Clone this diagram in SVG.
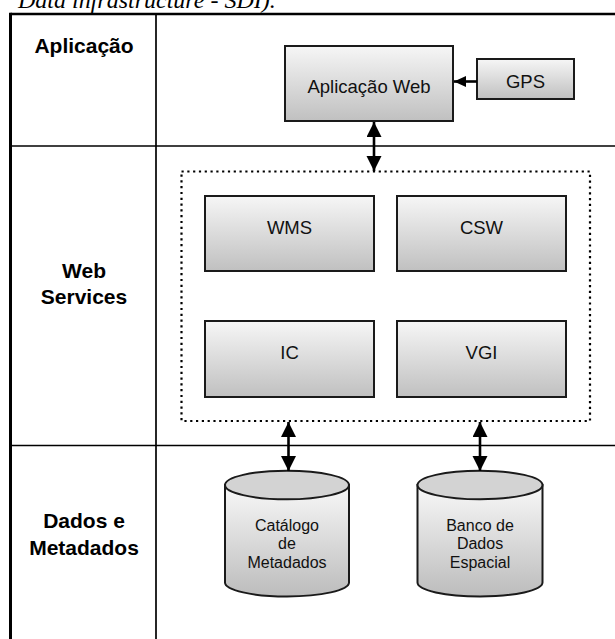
<svg xmlns="http://www.w3.org/2000/svg" width="615" height="639" viewBox="0 0 615 639">
  <style>
    .frame { stroke: #000; fill: none; }
    .box { stroke: #1a1a1a; stroke-width: 2; fill: url(#boxGrad); }
    .cyl { stroke: #1a1a1a; stroke-width: 2; fill: url(#cylGrad); }
    .cyltop { stroke: #1a1a1a; stroke-width: 2; fill: #d3d3d3; }
    .lbl { font-family: "Liberation Sans", Arial, sans-serif; font-weight: bold; font-size: 21px; fill: #000; text-anchor: middle; }
    .txt { font-family: "Liberation Sans", Arial, sans-serif; font-size: 18.5px; fill: #111; text-anchor: middle; }
    .ctxt { font-family: "Liberation Sans", Arial, sans-serif; font-size: 16px; fill: #111; text-anchor: middle; }
    .conn { stroke: #000; stroke-width: 2.6; fill: none; }
  </style>
  <defs>
    <linearGradient id="boxGrad" x1="0" y1="0" x2="0" y2="1">
      <stop offset="0" stop-color="#f6f6f6"/>
      <stop offset="1" stop-color="#c0c0c0"/>
    </linearGradient>
    <linearGradient id="cylGrad" x1="0" y1="0" x2="0" y2="1">
      <stop offset="0" stop-color="#f8f8f8"/>
      <stop offset="1" stop-color="#bcbcbc"/>
    </linearGradient>
    <marker id="bigHead" markerUnits="userSpaceOnUse" markerWidth="16" markerHeight="16" refX="15" refY="7.5" orient="auto-start-reverse" viewBox="0 0 16 16">
      <path d="M0,0 L15,7.5 L0,15 z" fill="#000"/>
    </marker>
    <marker id="smallHead" markerUnits="userSpaceOnUse" markerWidth="13" markerHeight="12" refX="12" refY="5.5" orient="auto-start-reverse" viewBox="0 0 13 12">
      <path d="M0,0 L12,5.5 L0,11 z" fill="#000"/>
    </marker>
  </defs>

  <!-- caption (clipped at top) -->
  <text x="18" y="7.5" font-family="'Liberation Serif', 'Times New Roman', serif" font-style="italic" font-size="24" fill="#000">Data infrastructure - SDI).</text>

  <!-- frame -->
  <g id="frame">
    <line class="frame" x1="10.5" y1="14" x2="615" y2="14" stroke-width="2.6"/>
    <line class="frame" x1="10.5" y1="12.7" x2="10.5" y2="639" stroke-width="3"/>
    <line class="frame" x1="156" y1="14" x2="156" y2="639" stroke-width="1.7"/>
    <line class="frame" x1="10.5" y1="146" x2="615" y2="146" stroke-width="1.7"/>
    <line class="frame" x1="10.5" y1="445.5" x2="615" y2="445.5" stroke-width="1.7"/>
  </g>

  <!-- row labels -->
  <g id="label-aplicacao"><text class="lbl" x="84" y="53">Aplicação</text></g>
  <g id="label-webservices">
    <text class="lbl" x="84" y="278">Web</text>
    <text class="lbl" x="84" y="304">Services</text>
  </g>
  <g id="label-dados">
    <text class="lbl" x="84" y="528">Dados e</text>
    <text class="lbl" x="84" y="555">Metadados</text>
  </g>

  <!-- application layer -->
  <g id="aplicacao-web">
    <rect class="box" x="285" y="46" width="168" height="75"/>
    <text class="txt" x="369" y="93">Aplicação Web</text>
  </g>
  <g id="gps">
    <rect class="box" x="477" y="59" width="97" height="40"/>
    <text class="txt" x="525.5" y="88">GPS</text>
  </g>

  <!-- web services container -->
  <g id="web-services">
    <rect x="181.5" y="171.5" width="408.5" height="249.5" fill="none" stroke="#000" stroke-width="2.2" stroke-dasharray="2.2 3.6"/>
  </g>
  <g id="wms">
    <rect class="box" x="205" y="196" width="169" height="75"/>
    <text class="txt" x="289.5" y="234">WMS</text>
  </g>
  <g id="csw">
    <rect class="box" x="397" y="196" width="169" height="75"/>
    <text class="txt" x="481.5" y="234">CSW</text>
  </g>
  <g id="ic">
    <rect class="box" x="205" y="321" width="169" height="76"/>
    <text class="txt" x="289.5" y="359">IC</text>
  </g>
  <g id="vgi">
    <rect class="box" x="397" y="321" width="169" height="76"/>
    <text class="txt" x="481.5" y="359">VGI</text>
  </g>

  <!-- data layer -->
  <g id="catalogo">
    <path class="cyl" d="M225,485 L225,582.5 A62,14 0 0 0 349,582.5 L349,485 Z"/>
    <ellipse class="cyltop" cx="287" cy="485" rx="62" ry="14.3"/>
    <text class="ctxt" x="287" y="531">Catálogo</text>
    <text class="ctxt" x="287" y="549">de</text>
    <text class="ctxt" x="287" y="568">Metadados</text>
  </g>
  <g id="banco">
    <path class="cyl" d="M417.5,485 L417.5,582.5 A62.5,14 0 0 0 542.5,582.5 L542.5,485 Z"/>
    <ellipse class="cyltop" cx="480" cy="485" rx="62.5" ry="14.3"/>
    <text class="ctxt" x="480" y="531">Banco de</text>
    <text class="ctxt" x="480" y="549">Dados</text>
    <text class="ctxt" x="480" y="568">Espacial</text>
  </g>

  <!-- connectors -->
  <g id="connectors">
    <line class="conn" x1="477" y1="81.5" x2="454" y2="81.5" marker-end="url(#smallHead)"/>
    <line class="conn" x1="374" y1="122" x2="374" y2="171" marker-start="url(#bigHead)" marker-end="url(#bigHead)"/>
    <line class="conn" x1="288.5" y1="422" x2="288.5" y2="471" marker-start="url(#bigHead)" marker-end="url(#bigHead)"/>
    <line class="conn" x1="480" y1="422" x2="480" y2="471" marker-start="url(#bigHead)" marker-end="url(#bigHead)"/>
  </g>
</svg>
